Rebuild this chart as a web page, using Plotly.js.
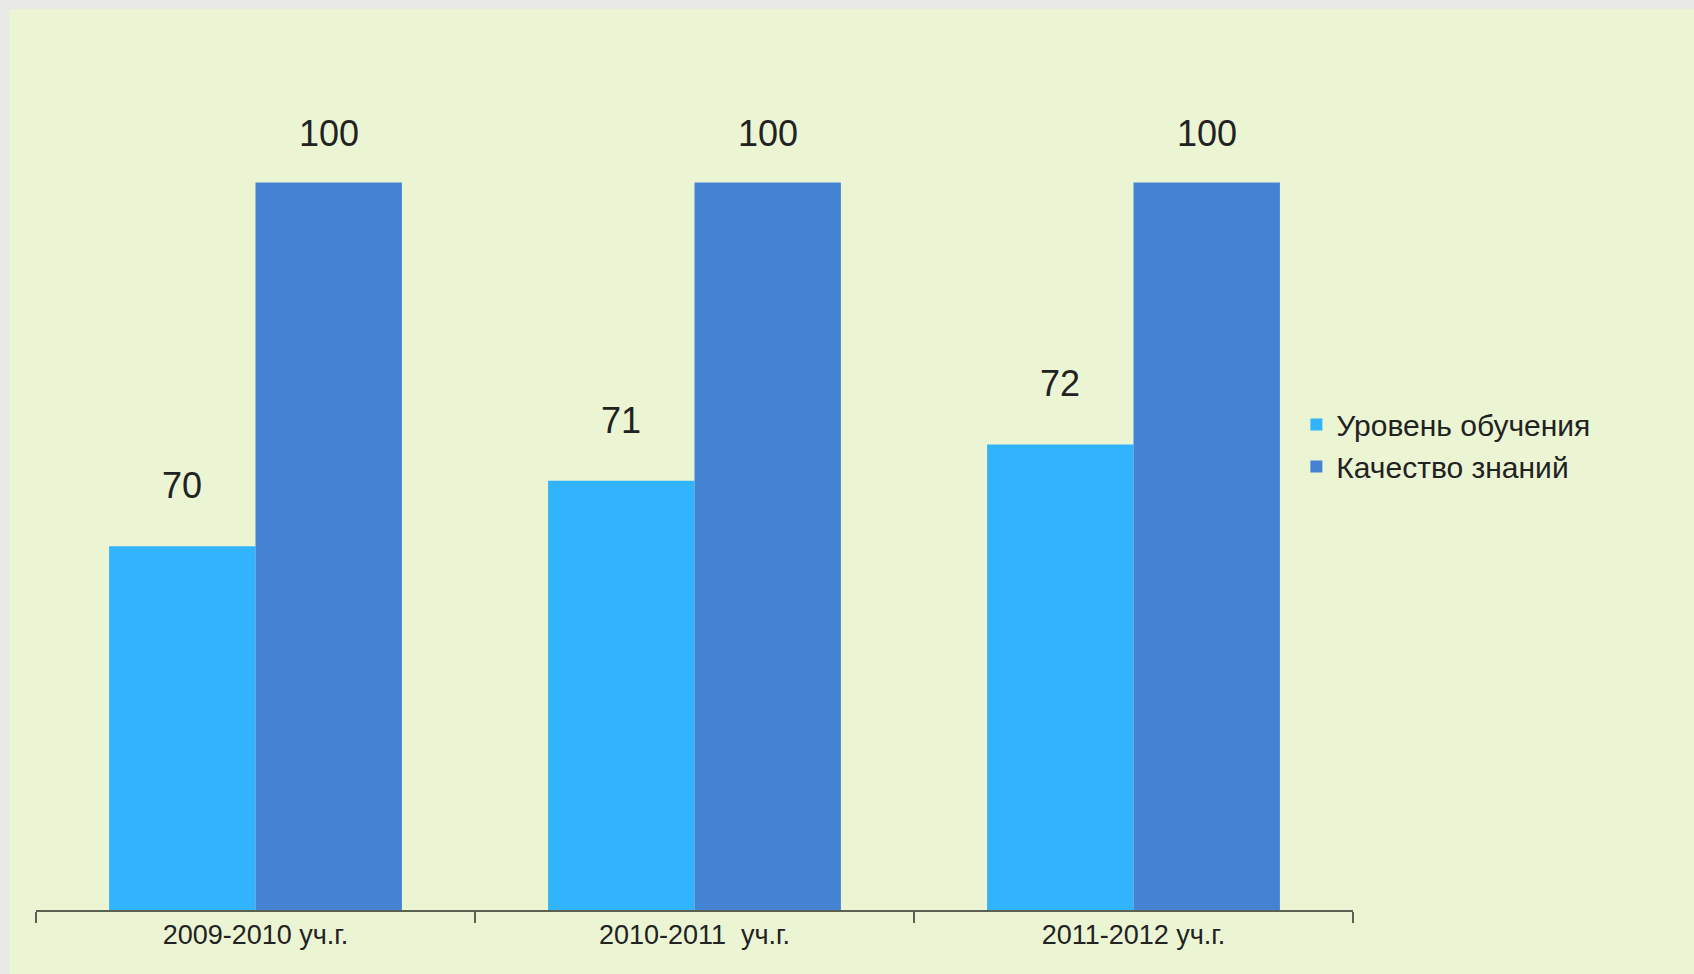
<!DOCTYPE html>
<html>
<head>
<meta charset="utf-8">
<script src="https://cdn.plot.ly/plotly-3.0.1.min.js"></script>
<style>
  html, body { margin: 0; padding: 0; background: #e9e9e7; width: 1694px; height: 974px; overflow: hidden; }
  #chart { position: absolute; left: 9px; top: 9px; width: 1685px; height: 965px; }
</style>
</head>
<body>
<div id="chart"></div>
<script>
// Categories (school years)
const categories = ["2009-2010 уч.г.", "2010-2011  уч.г.", "2011-2012 уч.г."];
// Series names
const seriesNames = ["Уровень обучения", "Качество знаний"];
// Bar heights (dark bar = 100)
const levelHeights = [50, 59, 64];
const qualityHeights = [100, 100, 100];
// Data labels printed above the bars
const levelLabels = ["70", "71", "72"];
const qualityLabels = ["100", "100", "100"];

const BARGAP = 0.333;
const halfBar = (1 - BARGAP) / 4; // center offset of each bar in a 2-bar group

const traces = [
  { type: "bar", name: seriesNames[0], x: categories, y: levelHeights,
    marker: { color: "#31B4FB" }, hoverinfo: "skip" },
  { type: "bar", name: seriesNames[1], x: categories, y: qualityHeights,
    marker: { color: "#4483D3" }, hoverinfo: "skip" }
];

const annotations = [];
categories.forEach((c, i) => {
  annotations.push({ x: i - halfBar, y: levelHeights[i], xref: "x", yref: "y",
    text: levelLabels[i], showarrow: false, yanchor: "bottom", yshift: 38 });
  annotations.push({ x: i + halfBar, y: qualityHeights[i], xref: "x", yref: "y",
    text: qualityLabels[i], showarrow: false, yanchor: "bottom", yshift: 27 });
});

const layout = {
  width: 1685, height: 965,
  paper_bgcolor: "#EBF5D4", plot_bgcolor: "#EBF5D4",
  margin: { l: 27, r: 341, t: 28, b: 64 },
  barmode: "group", bargap: BARGAP, bargroupgap: 0,
  font: { family: "Liberation Sans, Arial, sans-serif", color: "#222", size: 36 },
  xaxis: {
    type: "category",
    showline: true, linecolor: "#5b6150", linewidth: 2,
    ticks: "outside", tickson: "boundaries", ticklen: 11, tickcolor: "#5b6150", tickwidth: 2,
    tickfont: { size: 27, color: "#222" },
    showgrid: false, zeroline: false
  },
  yaxis: { range: [0, 120], visible: false, showgrid: false, zeroline: false, fixedrange: true },
  showlegend: true,
  legend: {
    x: 0.957, xanchor: "left", y: 0.586, yanchor: "top",
    bgcolor: "rgba(0,0,0,0)",
    font: { size: 30, color: "#222" },
    tracegroupgap: 0
  },
  annotations: annotations
};

Plotly.newPlot("chart", traces, layout, { staticPlot: true, displayModeBar: false });
</script>
</body>
</html>
